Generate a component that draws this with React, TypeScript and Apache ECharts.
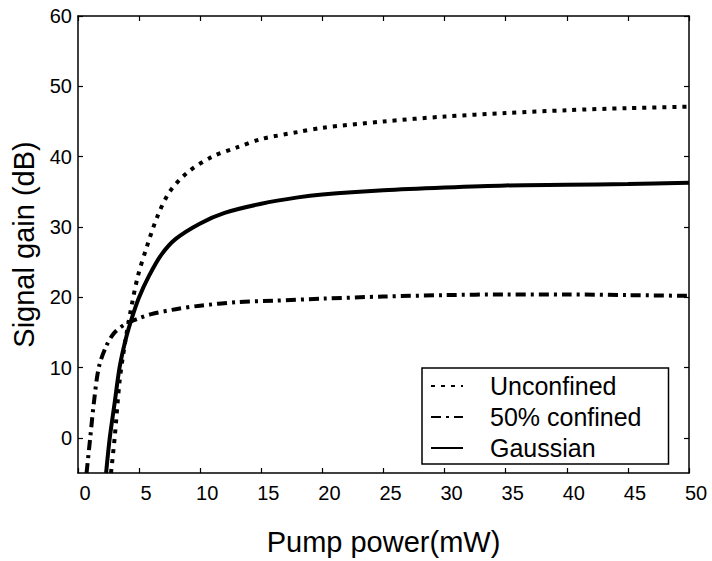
import React, { useEffect, useRef } from "react";
import * as echarts from "echarts";

// Pump power (mW), signal gain (dB)
const unconfined: [number, number][] = [
  [2.7, -5], [3.0, 0], [3.4, 8], [3.8, 13], [4.3, 18], [4.9, 23], [5.6, 27],
  [6.5, 31.5], [7.5, 35], [9, 37.8], [11, 40], [13, 41.3], [15, 42.5],
  [18, 43.5], [20, 44.1], [25, 45], [30, 45.7], [35, 46.2], [40, 46.6],
  [45, 46.9], [50, 47.1],
];
const confined50: [number, number][] = [
  [0.7, -5], [1.0, 0], [1.3, 5], [1.7, 10], [2.3, 13], [3.0, 15], [4.0, 16.3],
  [5, 17], [6, 17.6], [8, 18.3], [10, 18.8], [13, 19.3], [16, 19.5],
  [20, 19.8], [25, 20.1], [30, 20.3], [35, 20.4], [40, 20.4], [45, 20.3],
  [50, 20.2],
];
const gaussian: [number, number][] = [
  [2.3, -5], [2.6, 0], [3.0, 5], [3.4, 10], [3.9, 14], [4.4, 17], [5, 20],
  [5.8, 23], [6.8, 26], [8, 28.3], [10, 30.5], [12, 32], [15, 33.3],
  [18, 34.2], [20, 34.6], [25, 35.2], [30, 35.6], [35, 35.9], [40, 36],
  [45, 36.1], [50, 36.3],
];
const yTickValues = [0, 10, 20, 30, 40, 50, 60];
const seriesNames = ["Unconfined", "50% confined", "Gaussian"];

const FONT = "Liberation Sans, Arial, sans-serif";

export default function App() {
  const ref = useRef<HTMLDivElement>(null);
  useEffect(() => {
    if (!ref.current) return;
    const chart = echarts.init(ref.current, undefined, { renderer: "svg" });
    const tickStyle = { show: true, inside: true, length: 5, lineStyle: { color: "#000", width: 1.2 } };
    const axisLine = { show: true, onZero: false, lineStyle: { color: "#000", width: 1.5 } };
    const lineSeries = (name: string, data: [number, number][], type: any) => ({
      name,
      type: "line",
      data,
      showSymbol: false,
      symbol: "none",
      smooth: 0.3,
      lineStyle: { color: "#000", width: 4, type, cap: "butt" },
      itemStyle: { color: "#000" },
    });
    chart.setOption({
      animation: false,
      backgroundColor: "#fff",
      textStyle: { fontFamily: FONT },
      grid: { left: 78, right: 23, top: 16, bottom: 87 },
      legend: {
        data: seriesNames,
        orient: "vertical",
        left: 422,
        top: 368,
        padding: [5, 27, 3, 8],
        itemWidth: 32,
        itemHeight: 14,
        itemGap: 5,
        itemTextGap: 28,
        itemStyle: { opacity: 0 },
        borderColor: "#000",
        borderWidth: 1.5,
        borderRadius: 0,
        backgroundColor: "#fff",
        textStyle: { fontSize: 25, lineHeight: 26, color: "#000", fontFamily: FONT, padding: [0, 0, 0, 22] },
      },
      xAxis: [
        {
          type: "value",
          min: 0,
          max: 50,
          interval: 5,
          position: "bottom",
          axisLine,
          axisTick: tickStyle,
          splitLine: { show: false },
          axisLabel: { fontSize: 20, color: "#000", margin: 10, padding: [0, 0, 0, 14], fontFamily: FONT },
          name: "Pump power(mW)",
          nameLocation: "middle",
          nameGap: 54,
          nameTextStyle: { fontSize: 29, color: "#000", fontFamily: FONT },
        },
        {
          type: "value",
          min: 0,
          max: 50,
          interval: 5,
          position: "top",
          axisLine,
          axisTick: tickStyle,
          splitLine: { show: false },
          axisLabel: { show: false },
        },
      ],
      yAxis: [
        {
          type: "value",
          min: -5,
          max: 60,
          interval: 5,
          position: "left",
          axisLine,
          axisTick: { ...tickStyle, customValues: yTickValues },
          splitLine: { show: false },
          axisLabel: {
            customValues: yTickValues,
            fontSize: 20,
            color: "#000",
            margin: 6,
            padding: [11, 0, 0, 0],
            fontFamily: FONT,
          },
          name: "Signal gain (dB)",
          nameLocation: "middle",
          nameGap: 29,
          nameTextStyle: { fontSize: 29, color: "#000", fontFamily: FONT },
        },
        {
          type: "value",
          min: -5,
          max: 60,
          interval: 5,
          position: "right",
          axisLine,
          axisTick: { ...tickStyle, customValues: yTickValues },
          splitLine: { show: false },
          axisLabel: { show: false },
        },
      ],
      series: [
        lineSeries(seriesNames[0], unconfined, [4, 6]),
        lineSeries(seriesNames[1], confined50, [10, 5, 3, 5]),
        lineSeries(seriesNames[2], gaussian, "solid"),
      ],
    });
    return () => chart.dispose();
  }, []);
  return <div ref={ref} style={{ width: 712, height: 561, position: "absolute", left: 0, top: 0 }} />;
}
